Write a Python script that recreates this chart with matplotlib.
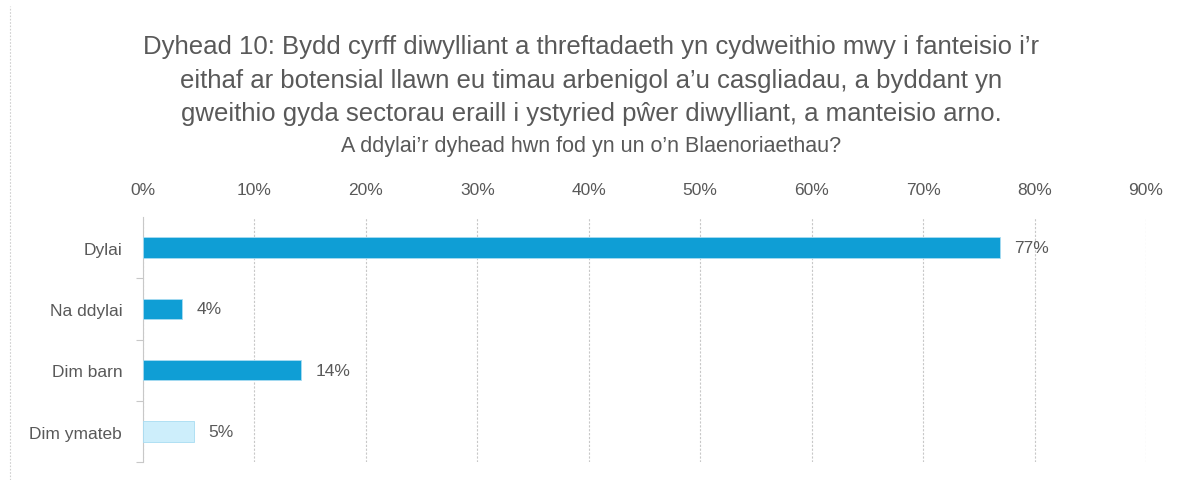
import matplotlib.pyplot as plt
from matplotlib.lines import Line2D
from matplotlib.ticker import FuncFormatter

plt.rcParams['font.family'] = ['Liberation Sans', 'DejaVu Sans']

categories = ['Dylai', 'Na ddylai', 'Dim barn', 'Dim ymateb']
values = [76.9, 3.5, 14.2, 4.6]
colors = ['#0f9ed5', '#0f9ed5', '#0f9ed5', '#cdeefb']

title = ("Dyhead 10: Bydd cyrff diwylliant a threftadaeth yn cydweithio mwy i fanteisio i\u2019r\n"
         "eithaf ar botensial llawn eu timau arbenigol a\u2019u casgliadau, a byddant yn\n"
         "gweithio gyda sectorau eraill i ystyried p\u0175er diwylliant, a manteisio arno.")
subtitle = "A ddylai\u2019r dyhead hwn fod yn un o\u2019n Blaenoriaethau?"

grey = '#595959'

fig = plt.figure(figsize=(11.82, 4.81), dpi=100)
ax = fig.add_axes([0.121, 0.037, 0.8485, 0.51])

y = range(len(categories))
ax.barh(y, values, height=0.33, color=colors, edgecolor='#a8dcf2', linewidth=0.6, zorder=3)
for yi, v in zip(y, values):
    ax.text(v + 1.3, yi, '{:.0f}%'.format(v), va='center', ha='left', fontsize=12.5, color=grey)

ax.set_xlim(0, 90)
ax.set_ylim(3.5, -0.5)
ax.set_xticks(range(0, 91, 10))
ax.xaxis.set_major_formatter(FuncFormatter(lambda x, p: '{:.0f}%'.format(x)))
ax.xaxis.tick_top()
ax.tick_params(axis='x', length=0, pad=14, labelsize=12.5, labelcolor=grey)
ax.grid(axis='x', color='#c8c8c8', linestyle=(0, (2, 1.5)), linewidth=0.8, zorder=0)

ax.set_yticks(list(y))
ax.set_yticklabels(categories)
ax.set_yticks([0.5, 1.5, 2.5, 3.5], minor=True)
ax.tick_params(axis='y', which='major', length=0, pad=15, labelsize=12.5, labelcolor=grey)
ax.tick_params(axis='y', which='minor', length=5, color='#c8c8c8', width=0.8)

for s in ['top', 'right', 'bottom']:
    ax.spines[s].set_visible(False)
ax.spines['left'].set_color('#c8c8c8')
ax.spines['left'].set_linewidth(0.8)

fig.text(0.5, 0.832, title, ha='center', va='center', fontsize=18.5, color=grey, linespacing=1.5)
fig.text(0.5, 0.696, subtitle, ha='center', va='center', fontsize=15.5, color=grey)

# frame edge on the left
fig.add_artist(Line2D([0.0085, 0.0085], [0.0, 0.985], color='#d0d0d0', linestyle=(0, (1.5, 1.5)), linewidth=0.8))

fig.savefig('out.png', dpi=100)
